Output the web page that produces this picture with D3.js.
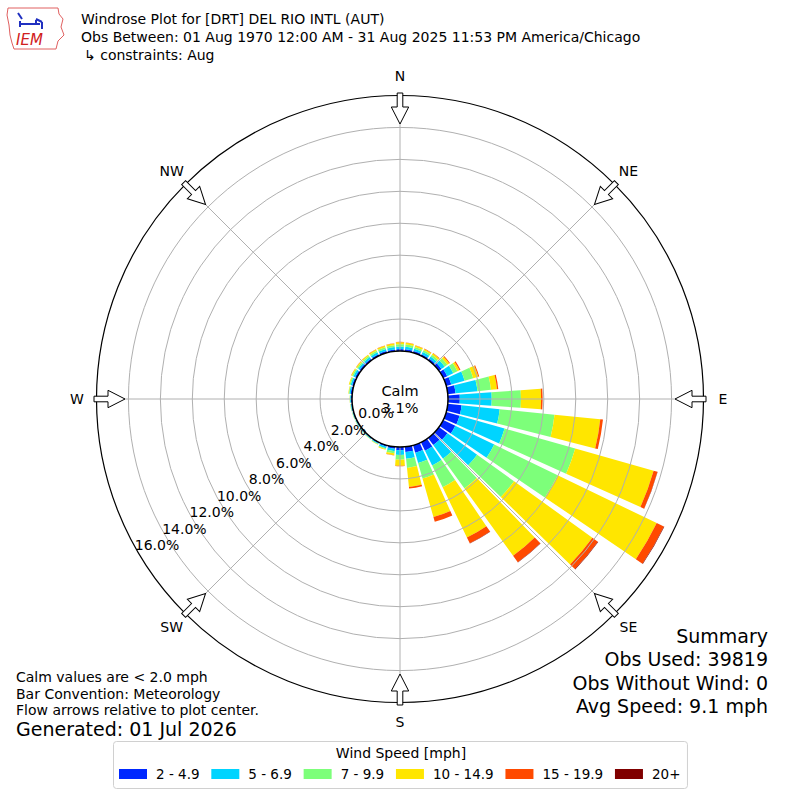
<!DOCTYPE html>
<html>
<head>
<meta charset="utf-8">
<script src="https://cdn.jsdelivr.net/npm/d3@7"></script>
<style>
  body { margin: 0; background: #fff; }
  text { font-family: "DejaVu Sans", sans-serif; fill: #000; }
</style>
</head>
<body>
<div id="chart"></div>
<script>
// Wind direction bins (degrees, meteorological, direction wind comes from)
var directions = [0, 10, 20, 30, 40, 50, 60, 70, 80, 90, 100, 110, 120, 130, 140, 150, 160, 170,
                  180, 190, 200, 210, 220, 230, 240, 250, 260, 270, 280, 290, 300, 310, 320, 330, 340, 350];

var speedBins = ["2 - 4.9", "5 - 6.9", "7 - 9.9", "10 - 14.9", "15 - 19.9", "20+"];
var speedColors = ["#0028ff", "#00d4ff", "#7dff7a", "#ffe600", "#ff4a00", "#800000"];

// frequency (%) per direction for each speed bin
var pct2to5 = [0.12, 0.12, 0.11, 0.11, 0.12, 0.20, 0.28, 0.33, 0.49, 0.74, 0.87, 0.87, 0.84, 0.66, 0.55, 0.59, 0.49, 0.33,
               0.20, 0.12, 0.10, 0.07, 0.06, 0.06, 0.06, 0.06, 0.06, 0.07, 0.10, 0.11, 0.12, 0.11, 0.11, 0.11, 0.11, 0.11];
var pct5to7 = [0.16, 0.16, 0.15, 0.15, 0.16, 0.25, 0.42, 0.87, 1.38, 2.00, 2.40, 2.93, 2.71, 2.29, 1.05, 1.03, 0.67, 0.42,
               0.30, 0.16, 0.10, 0.05, 0.04, 0.03, 0.03, 0.03, 0.04, 0.05, 0.08, 0.10, 0.12, 0.12, 0.12, 0.13, 0.14, 0.15];
var pct7to10 = [0.15, 0.14, 0.12, 0.12, 0.13, 0.20, 0.29, 0.56, 0.85, 1.83, 3.45, 4.60, 4.41, 2.85, 2.30, 1.51, 1.01, 0.58,
                0.30, 0.13, 0.06, 0.03, 0.02, 0.02, 0.02, 0.02, 0.02, 0.02, 0.04, 0.07, 0.09, 0.09, 0.10, 0.11, 0.12, 0.12];
var pct10to15 = [0.12, 0.11, 0.10, 0.10, 0.11, 0.15, 0.14, 0.33, 0.38, 1.26, 2.88, 5.10, 6.89, 6.05, 5.20, 3.49, 2.51, 1.20,
                 0.38, 0.12, 0.04, 0.02, 0.01, 0.01, 0.01, 0.01, 0.01, 0.01, 0.03, 0.05, 0.06, 0.07, 0.08, 0.08, 0.09, 0.10];
var pct15to20 = [0.03, 0.02, 0.02, 0.02, 0.03, 0.05, 0.07, 0.06, 0.08, 0.10, 0.17, 0.25, 0.50, 0.42, 0.50, 0.41, 0.31, 0.10,
                 0.02, 0.02, 0, 0, 0, 0, 0, 0, 0, 0, 0, 0, 0.01, 0.01, 0.01, 0.02, 0.02, 0.02];
var pct20plus = [0, 0, 0, 0, 0, 0, 0, 0, 0, 0, 0, 0.01, 0.03, 0.03, 0.02, 0.02, 0, 0,
                 0, 0, 0, 0, 0, 0, 0, 0, 0, 0, 0, 0, 0, 0, 0, 0, 0, 0];

var ringTicks = [0, 2, 4, 6, 8, 10, 12, 14, 16];
var compassLabels = ["N", "NE", "E", "SE", "S", "SW", "W", "NW"];
var compassAngles = [0, 45, 90, 135, 180, 225, 270, 315];

var titleLines = ["Windrose Plot for [DRT] DEL RIO INTL (AUT)",
                  "Obs Between: 01 Aug 1970 12:00 AM - 31 Aug 2025 11:53 PM America/Chicago",
                  "\u21b3 constraints: Aug"];
var calmPct = "3.1%";
var summaryLines = ["Summary", "Obs Used: 39819", "Obs Without Wind: 0", "Avg Speed: 9.1 mph"];
var noteLines = ["Calm values are < 2.0 mph", "Bar Convention: Meteorology", "Flow arrows relative to plot center."];
var generated = "Generated: 01 Jul 2026";

var svgWidth = 800;
var svgHeight = 800;
var cx = 400, cy = 399;

var svg = d3.select("#chart")
    .append("svg")
    .attr("width", svgWidth)
    .attr("height", svgHeight);

var series = [pct2to5, pct5to7, pct7to10, pct10to15, pct15to20, pct20plus];
var table = directions.map(function(d, i) {
    var row = { dir: d };
    speedBins.forEach(function(s, j) { row[s] = series[j][i]; });
    return row;
});
var stacked = d3.stack().keys(speedBins)(table);

// radial scale: 0% sits on the calm circle, 16% on the outer frame
var rScale = d3.scaleLinear().domain([0, 16]).range([48, 303.5]);
var toRad = Math.PI / 180;
var halfWidth = 4.2 * toRad;

var plot = svg.append("g").attr("transform", `translate(${cx}, ${cy})`);

// bars
var arc = d3.arc();
plot.selectAll(".layer")
    .data(stacked)
    .join("g")
    .attr("fill", (d, i) => speedColors[i])
    .selectAll("path")
    .data(d => d.filter(p => p[1] > p[0]))
    .join("path")
    .attr("d", function(p) {
        var a = p.data.dir * toRad;
        return arc({
            innerRadius: rScale(p[0]),
            outerRadius: rScale(p[1]),
            startAngle: a - halfWidth,
            endAngle: a + halfWidth
        });
    });

// grid circles
plot.selectAll(".ring")
    .data(ringTicks.filter(t => t > 0 && t < 16))
    .join("circle")
    .attr("r", d => rScale(d))
    .attr("fill", "none")
    .attr("stroke", "#b0b0b0")
    .attr("stroke-width", 1);

// radial grid lines
plot.selectAll(".spoke")
    .data(compassAngles)
    .join("line")
    .attr("x1", d => rScale(0) * Math.sin(d * toRad))
    .attr("y1", d => -rScale(0) * Math.cos(d * toRad))
    .attr("x2", d => rScale(16) * Math.sin(d * toRad))
    .attr("y2", d => -rScale(16) * Math.cos(d * toRad))
    .attr("stroke", "#b0b0b0")
    .attr("stroke-width", 1);

// outer frame
plot.append("circle")
    .attr("r", rScale(16))
    .attr("fill", "none")
    .attr("stroke", "#000")
    .attr("stroke-width", 1.2);

// calm circle
plot.append("circle")
    .attr("r", rScale(0))
    .attr("fill", "#fff")
    .attr("stroke", "#000")
    .attr("stroke-width", 1.5);

// flow arrows (hollow, pointing to the center)
var arrowPts = [[-2.8, -306], [2.8, -306], [2.8, -292], [8.7, -292], [0, -275], [-8.7, -292], [-2.8, -292]];
plot.selectAll(".arrow")
    .data(compassAngles)
    .join("path")
    .attr("transform", d => `rotate(${d})`)
    .attr("d", d3.line()(arrowPts) + "Z")
    .attr("fill", "#fff")
    .attr("stroke", "#000")
    .attr("stroke-width", 1);

// compass labels
plot.selectAll(".dirLabel")
    .data(compassLabels)
    .join("text")
    .attr("x", (d, i) => 323 * Math.sin(compassAngles[i] * toRad))
    .attr("y", (d, i) => -323 * Math.cos(compassAngles[i] * toRad))
    .attr("text-anchor", "middle")
    .attr("dominant-baseline", "central")
    .attr("font-size", "14px")
    .text(d => d);

// radial tick labels
var labelAngle = 239 * toRad;
plot.selectAll(".rLabel")
    .data(ringTicks)
    .join("text")
    .attr("x", d => (rScale(d) - 20) * Math.sin(labelAngle))
    .attr("y", d => -(rScale(d) - 20) * Math.cos(labelAngle))
    .attr("text-anchor", "middle")
    .attr("dominant-baseline", "central")
    .attr("font-size", "14px")
    .text(d => d.toFixed(1) + "%");

// calm text
plot.append("text")
    .attr("y", -8)
    .attr("text-anchor", "middle")
    .attr("dominant-baseline", "central")
    .attr("font-size", "14.5px")
    .text("Calm");
plot.append("text")
    .attr("y", 9)
    .attr("text-anchor", "middle")
    .attr("dominant-baseline", "central")
    .attr("font-size", "14.5px")
    .text(calmPct);

// title
svg.selectAll(".title")
    .data(titleLines)
    .join("text")
    .attr("x", (d, i) => i == 2 ? 84 : 81)
    .attr("y", (d, i) => 19 + i * 18)
    .attr("dominant-baseline", "central")
    .attr("font-size", "14px")
    .text(d => d);

// IEM logo (rough)
var logo = svg.append("g").attr("transform", "translate(6, 5)");
logo.append("path")
    .attr("d", "M2,3 L52,3 L53,9 L57,14 L55,22 L58,30 L52,36 L50,44 L8,44 L6,38 L4,30 L3,20 L1,10 Z")
    .attr("fill", "none")
    .attr("stroke", "#e06060")
    .attr("stroke-width", 1);
logo.append("path")
    .attr("d", "M12,8 L16,14 M14,19 L30,19 L30,15 M22,19 L34,19 M30,14 L36,17 M36,17 L36,24 M14,16 L14,22")
    .attr("fill", "none")
    .attr("stroke", "#2030c0")
    .attr("stroke-width", 2);
logo.append("text")
    .attr("x", 10)
    .attr("y", 40)
    .attr("font-family", "DejaVu Serif, serif")
    .attr("font-style", "italic")
    .attr("font-size", "15px")
    .style("fill", "#d02020")
    .text("IEM");

// summary block
svg.selectAll(".summary")
    .data(summaryLines)
    .join("text")
    .attr("x", 768)
    .attr("y", (d, i) => 636 + i * 23.3)
    .attr("text-anchor", "end")
    .attr("dominant-baseline", "central")
    .attr("font-size", "19px")
    .text(d => d);

// notes
svg.selectAll(".note")
    .data(noteLines)
    .join("text")
    .attr("x", 16)
    .attr("y", (d, i) => 677 + i * 16.5)
    .attr("dominant-baseline", "central")
    .attr("font-size", "14px")
    .text(d => d);
svg.append("text")
    .attr("x", 16)
    .attr("y", 729)
    .attr("dominant-baseline", "central")
    .attr("font-size", "19px")
    .text(generated);

// legend: columns sized to their labels
var legend = svg.append("g");
var legendBox = legend.append("rect")
    .attr("y", 741.5)
    .attr("height", 47)
    .attr("rx", 3)
    .attr("fill", "#fff")
    .attr("stroke", "#d0d0d0");
legend.append("text")
    .attr("x", 401)
    .attr("y", 752.5)
    .attr("text-anchor", "middle")
    .attr("dominant-baseline", "central")
    .attr("font-size", "14px")
    .text("Wind Speed [mph]");
var xPos = 119;
speedBins.forEach(function(s, i) {
    var item = legend.append("g").attr("transform", `translate(${xPos}, 774)`);
    item.append("rect")
        .attr("x", 0)
        .attr("y", -5)
        .attr("width", 28)
        .attr("height", 10)
        .attr("fill", speedColors[i]);
    var t = item.append("text")
        .attr("x", 37)
        .attr("y", 0)
        .attr("dominant-baseline", "central")
        .attr("font-size", "13.5px")
        .text(s);
    var w = t.node().getComputedTextLength();
    xPos += 37 + w + (i < speedBins.length - 1 ? 11.8 : 7);
});
legendBox.attr("x", 113.5).attr("width", xPos - 113.5);
</script>
</body>
</html>
